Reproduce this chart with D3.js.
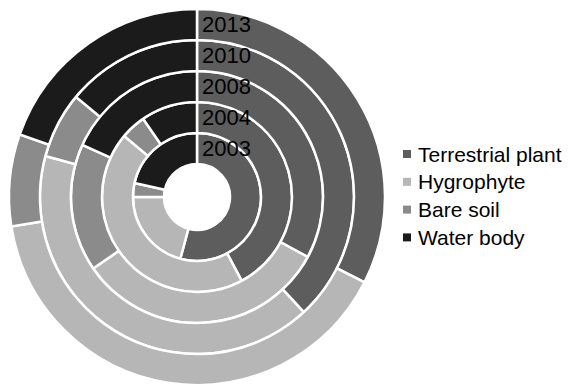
<!DOCTYPE html>
<html>
<head>
<meta charset="utf-8">
<script src="https://cdn.jsdelivr.net/npm/d3@7"></script>
<style>
  html, body { margin: 0; padding: 0; background: #fff; }
  text { font-family: "Liberation Sans", Arial, sans-serif; }
</style>
</head>
<body>
<svg id="chart" width="570" height="388"></svg>
<script>
// Land-cover shares (%) per year, innermost ring first
const years = ["2003", "2004", "2008", "2010", "2013"];
const categories = ["Terrestrial plant", "Hygrophyte", "Bare soil", "Water body"];
const terrestrial = [54.2, 42.2, 32.9, 38.1, 32.5];
const hygrophyte  = [20.8, 43.9, 32.5, 41.1, 40.0];
const bareSoil    = [3.5, 4.3, 16.4, 6.8, 7.9];
const waterBody   = [21.5, 9.6, 18.2, 14.0, 19.6];
const colors = ["#5d5d5d", "#b6b6b6", "#8b8b8b", "#1b1b1b"];

const series = [terrestrial, hygrophyte, bareSoil, waterBody];

const svg = d3.select("#chart");
const cx = 197, cy = 197;
const innerR = 33, outerR = 188;

const ring = d3.scaleBand().domain(years).range([innerR, outerR]).paddingInner(0);
const color = d3.scaleOrdinal().domain(categories).range(colors);

const pie = d3.pie().sort(null).value(d => d.value);
const g = svg.append("g").attr("transform", `translate(${cx},${cy})`);

years.forEach((yr, i) => {
  const data = categories.map((c, k) => ({ cat: c, value: series[k][i] }));
  const arc = d3.arc()
    .innerRadius(ring(yr))
    .outerRadius(ring(yr) + ring.bandwidth());
  g.append("g").selectAll("path")
    .data(pie(data))
    .join("path")
    .attr("d", arc)
    .attr("fill", d => color(d.data.cat))
    .attr("stroke", "#fff")
    .attr("stroke-width", 2.5);
});

// Year labels along the 12 o'clock axis
g.selectAll("text.year")
  .data(years)
  .join("text")
  .attr("class", "year")
  .attr("x", 5)
  .attr("y", d => -(ring(d) + ring.bandwidth() / 2))
  .attr("dominant-baseline", "central")
  .attr("font-size", 22)
  .attr("fill", "#000")
  .text(d => d);

// Legend
const legend = svg.append("g").attr("transform", "translate(403,154)");
const rows = legend.selectAll("g")
  .data(categories)
  .join("g")
  .attr("transform", (d, i) => `translate(0,${i * 27.8})`);
rows.append("rect")
  .attr("x", 0).attr("y", -4)
  .attr("width", 8).attr("height", 8)
  .attr("fill", d => color(d));
rows.append("text")
  .attr("x", 15)
  .attr("y", 0)
  .attr("dominant-baseline", "central")
  .attr("font-size", 21)
  .attr("fill", "#000")
  .text(d => d);
</script>
</body>
</html>
